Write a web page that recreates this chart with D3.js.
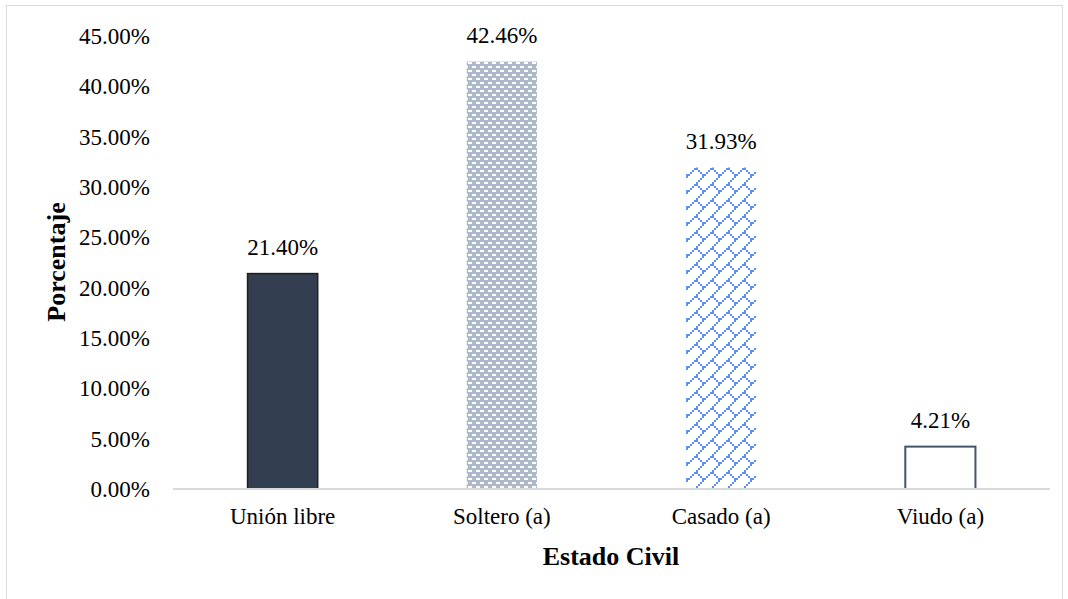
<!DOCTYPE html>
<html>
<head>
<meta charset="utf-8">
<script src="https://cdn.jsdelivr.net/npm/d3@7"></script>
<style>
  html, body { margin: 0; padding: 0; background: #fff; }
  svg { display: block; }
  text { font-family: "Liberation Serif", "Times New Roman", serif; fill: #000; }
</style>
</head>
<body>
<svg id="chart" width="1068" height="599"></svg>
<script>
// Distribución por estado civil
const categories = ["Unión libre", "Soltero (a)", "Casado (a)", "Viudo (a)"];
const values = [21.40, 42.46, 31.93, 4.21];
const yTicks = [0, 5, 10, 15, 20, 25, 30, 35, 40, 45];

const svg = d3.select("#chart");
const W = 1068, H = 599;
const margin = { left: 173, right: 18, top: 36, bottom: 110 };

// outer chart frame
svg.append("rect")
  .attr("x", 6.5).attr("y", 5.5)
  .attr("width", 1056).attr("height", 620)
  .attr("fill", "#fff").attr("stroke", "#d9d9d9").attr("stroke-width", 1);

// fill patterns
const defs = svg.append("defs");

const brick = defs.append("pattern")
  .attr("id", "dashRows").attr("patternUnits", "userSpaceOnUse")
  .attr("width", 8).attr("height", 8);
brick.append("rect").attr("width", 8).attr("height", 8).attr("fill", "#adb9ca");
brick.append("rect").attr("x", 0).attr("y", 2).attr("width", 4).attr("height", 2).attr("fill", "#fff");
brick.append("rect").attr("x", 4).attr("y", 6).attr("width", 4).attr("height", 2).attr("fill", "#fff");

const trellis = defs.append("pattern")
  .attr("id", "zigzag").attr("patternUnits", "userSpaceOnUse")
  .attr("width", 16).attr("height", 16);
trellis.append("rect").attr("width", 16).attr("height", 16).attr("fill", "#fff");
// stepped "/" diagonal
for (let i = 0; i < 16; i += 2) {
  trellis.append("rect").attr("x", i).attr("y", 15 - i - 1)
    .attr("width", 2).attr("height", 2).attr("fill", "#5b8ff9");
}
// short stepped "\" segment
for (let i = 0; i < 8; i += 2) {
  trellis.append("rect").attr("x", 8 + i).attr("y", 8 + i)
    .attr("width", 2).attr("height", 2).attr("fill", "#5b8ff9");
}

const x = d3.scaleBand()
  .domain(categories)
  .range([margin.left, W - margin.right])
  .paddingInner(0.68).paddingOuter(0.34);

const y = d3.scaleLinear()
  .domain([0, 45])
  .range([H - margin.bottom, margin.top]);

const fills = ["#333f50", "url(#dashRows)", "url(#zigzag)", "#fff"];
const strokes = ["#1f1f1f", "none", "none", "#44546a"];
const strokeW = [1.5, 0, 0, 2];

// bars
svg.append("g").selectAll("rect")
  .data(values)
  .join("rect")
  .attr("x", (d, i) => x(categories[i]))
  .attr("y", d => y(d))
  .attr("width", x.bandwidth())
  .attr("height", d => y(0) - y(d))
  .attr("fill", (d, i) => fills[i])
  .attr("stroke", (d, i) => strokes[i])
  .attr("stroke-width", (d, i) => strokeW[i]);

// value labels
svg.append("g").selectAll("text")
  .data(values)
  .join("text")
  .attr("x", (d, i) => x(categories[i]) + x.bandwidth() / 2)
  .attr("y", d => y(d) - 19)
  .attr("text-anchor", "middle")
  .style("font-size", "23px")
  .text(d => d.toFixed(2) + "%");

// x axis
const xAxis = svg.append("g")
  .attr("transform", `translate(0,${y(0)})`)
  .call(d3.axisBottom(x).tickSize(0).tickPadding(19));
xAxis.select(".domain").attr("stroke", "#d9d9d9").attr("stroke-width", 2)
  .attr("d", `M${margin.left},0H${W - margin.right}`);
xAxis.selectAll("text")
  .style("font-size", "23px")
  .style("font-family", "Liberation Serif, serif")
  .attr("fill", "#000");

// y axis
const yAxis = svg.append("g")
  .attr("transform", `translate(${margin.left},0)`)
  .call(d3.axisLeft(y).tickValues(yTicks).tickSize(0).tickPadding(23)
    .tickFormat(d => d.toFixed(2) + "%"));
yAxis.select(".domain").remove();
yAxis.selectAll("text")
  .style("font-size", "23px")
  .style("font-family", "Liberation Serif, serif")
  .attr("fill", "#000");

// axis titles
svg.append("text")
  .attr("x", 611).attr("y", 565)
  .attr("text-anchor", "middle")
  .style("font-size", "26px").style("font-weight", "bold")
  .text("Estado Civil");

svg.append("text")
  .attr("transform", "translate(65,262) rotate(-90)")
  .attr("text-anchor", "middle")
  .style("font-size", "26px").style("font-weight", "bold")
  .text("Porcentaje");
</script>
</body>
</html>
